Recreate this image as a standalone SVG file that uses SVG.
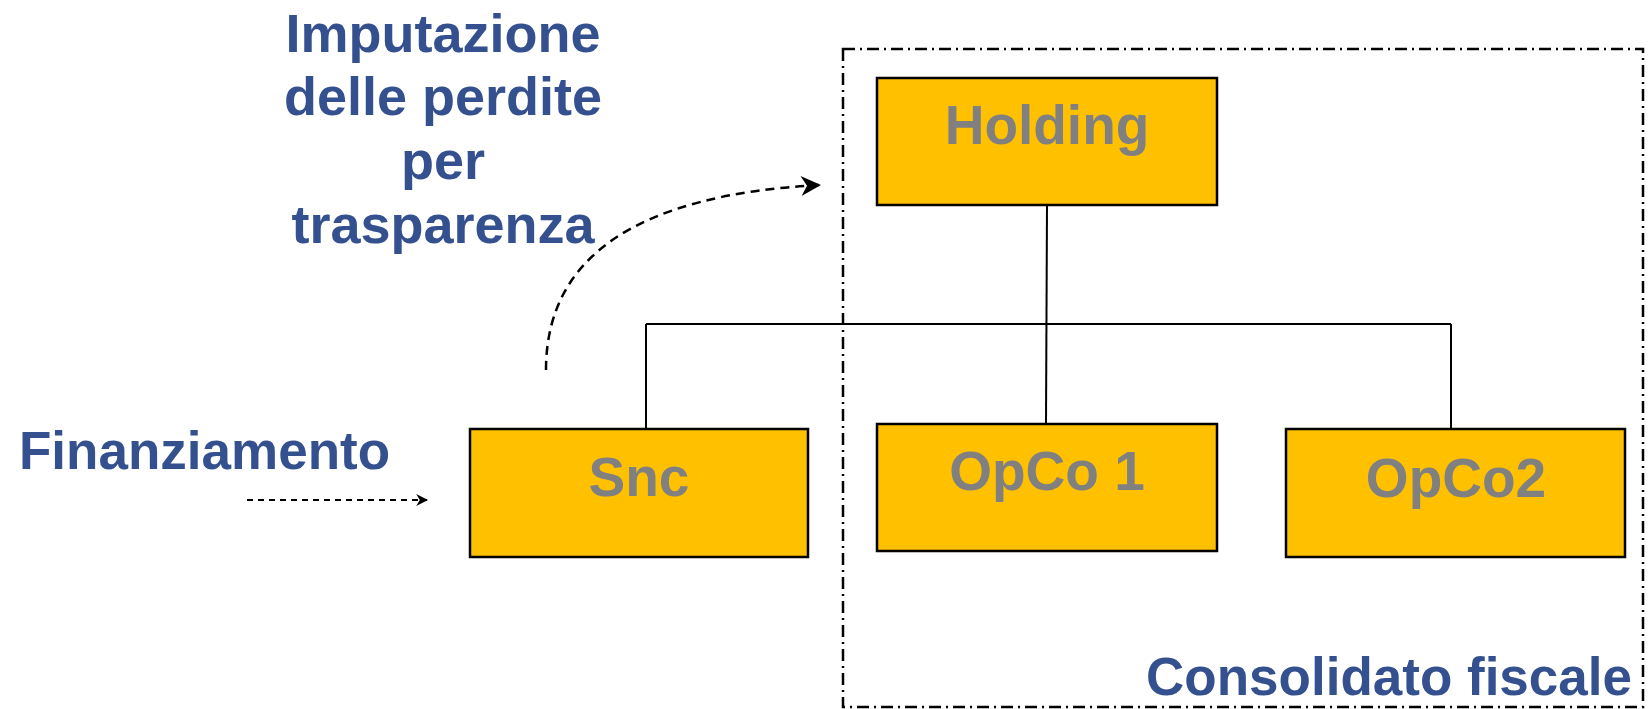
<svg xmlns="http://www.w3.org/2000/svg" width="1648" height="709" viewBox="0 0 1648 709">
<style>
.box{fill:#FFC000;stroke:#000;stroke-width:2.5}
.bt{font-family:"Liberation Sans",Arial,sans-serif;font-weight:bold;font-size:55px;fill:#808080;text-anchor:middle}
.lbl{font-family:"Liberation Sans",Arial,sans-serif;font-weight:bold;font-size:53px;fill:#34508E}
.ln{stroke:#000;stroke-width:2;fill:none}
.dash{stroke:#000;stroke-width:2.5;fill:none;stroke-dasharray:9 6}
</style>
<defs>
<marker id="ah" viewBox="0 0 20 20" refX="18" refY="10" markerWidth="20" markerHeight="20" markerUnits="userSpaceOnUse" orient="auto">
<path d="M0,0 L20,10 L0,20 L6,10 Z" fill="#000"/>
</marker>
<marker id="ahs" viewBox="0 0 20 20" refX="18" refY="10" markerWidth="12" markerHeight="12" markerUnits="userSpaceOnUse" orient="auto">
<path d="M0,0 L20,10 L0,20 L6,10 Z" fill="#000"/>
</marker>
</defs>
<rect id="consolidato-border" x="843" y="49" width="800" height="658" fill="none" stroke="#000" stroke-width="2.5" stroke-dasharray="12 5 2 5"/>
<g id="connectors">
<line class="ln" x1="1047" y1="205" x2="1046" y2="424"/>
<line class="ln" x1="646" y1="324" x2="1451" y2="324"/>
<line class="ln" x1="646" y1="324" x2="646" y2="429"/>
<line class="ln" x1="1451" y1="324" x2="1451" y2="429"/>
<path class="dash" d="M546,370 Q546,200 819,185" marker-end="url(#ah)"/>
<path d="M247,500 L427,500" stroke="#000" stroke-width="2" fill="none" stroke-dasharray="6 5" marker-end="url(#ahs)"/>
</g>
<g id="holding"><rect class="box" x="877" y="78" width="340" height="127"/><text class="bt" x="1047" y="144">Holding</text></g>
<g id="snc"><rect class="box" x="470" y="429" width="338" height="128"/><text class="bt" x="639" y="496">Snc</text></g>
<g id="opco1"><rect class="box" x="877" y="424" width="340" height="127"/><text class="bt" x="1047" y="490">OpCo 1</text></g>
<g id="opco2"><rect class="box" x="1286" y="429" width="339" height="128"/><text class="bt" x="1456" y="497">OpCo2</text></g>
<g id="title-label">
<text class="lbl" text-anchor="middle" x="443" style="font-size:54px"><tspan x="443" y="52">Imputazione</tspan><tspan x="443" y="115">delle perdite</tspan><tspan x="443" y="179">per</tspan><tspan x="443" y="243">trasparenza</tspan></text>
</g>
<g id="finanziamento-label"><text class="lbl" x="19" y="469">Finanziamento</text></g>
<g id="consolidato-label"><text class="lbl" text-anchor="end" x="1632" y="695">Consolidato fiscale</text></g>
</svg>
